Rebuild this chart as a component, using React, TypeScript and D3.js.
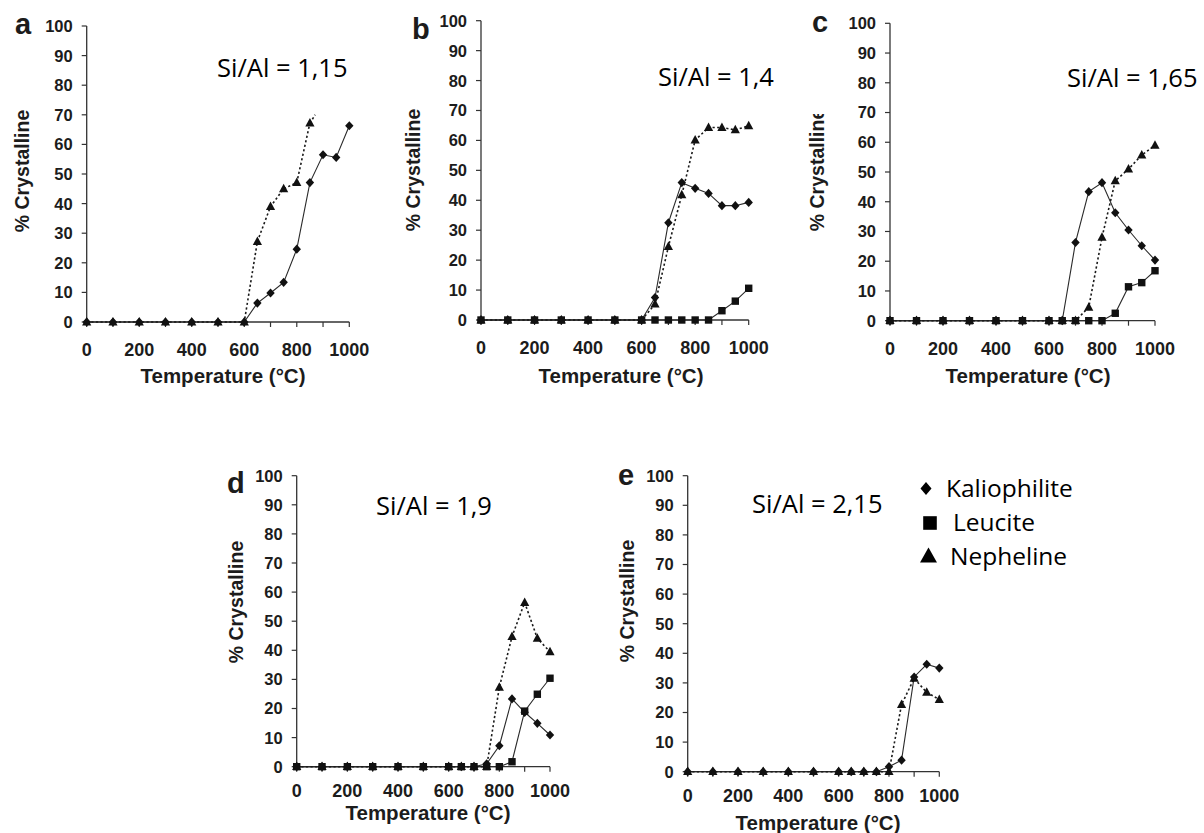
import React from 'react';
import * as d3 from 'd3';

// ---------- data ----------
const temps = [0, 100, 200, 300, 400, 500, 600, 650, 700, 750, 800, 850, 900, 950, 1000];
const xTickValues = [0, 100, 200, 300, 400, 500, 600, 700, 800, 900, 1000];
const xTickLabels = [0, 200, 400, 600, 800, 1000];
const yTickLabels = [0, 10, 20, 30, 40, 50, 60, 70, 80, 90, 100];

const panelLetters = ['a', 'b', 'c', 'd', 'e'];
const ratioLabels = ['Si/Al = 1,15', 'Si/Al = 1,4', 'Si/Al = 1,65', 'Si/Al = 1,9', 'Si/Al = 2,15'];
const legendLabels = ['Kaliophilite', 'Leucite', 'Nepheline'];

// panel a
const kalioA = [0, 0, 0, 0, 0, 0, 0, 6.4, 9.8, 13.4, 24.6, 47.1, 56.5, 55.6, 66.3];
const nephA = [0, 0, 0, 0, 0, 0, 0, 27.2, 39, 45, 47.1, 67.2];
const leucA: number[] = [];
const nephATailTemps = [850, 870];
const nephATailValues = [67.2, 70];
// panel b
const kalioB = [0, 0, 0, 0, 0, 0, 0, 7.5, 32.5, 45.9, 44, 42.3, 38.2, 38.2, 39.3];
const nephB = [0, 0, 0, 0, 0, 0, 0, 5.3, 24.5, 41.8, 60.1, 64.3, 64.3, 63.5, 64.9];
const leucB = [0, 0, 0, 0, 0, 0, 0, 0, 0, 0, 0, 0, 3.1, 6.3, 10.6];
// panel c
const kalioC = [0, 0, 0, 0, 0, 0, 0, 0, 26.3, 43.4, 46.4, 36.3, 30.5, 25.2, 20.4];
const nephC = [0, 0, 0, 0, 0, 0, 0, 0, 0, 4.5, 28, 47, 51, 55.7, 59];
const leucC = [0, 0, 0, 0, 0, 0, 0, 0, 0, 0, 0, 2.5, 11.4, 12.8, 16.8];
// panel d
const kalioD = [0, 0, 0, 0, 0, 0, 0, 0, 0, 1, 7.2, 23.3, 18.7, 14.9, 10.9];
const nephD = [0, 0, 0, 0, 0, 0, 0, 0, 0, 0, 27.3, 44.7, 56.4, 44.1, 39.5];
const leucD = [0, 0, 0, 0, 0, 0, 0, 0, 0, 0, 0, 1.7, 19.1, 24.9, 30.4];
// panel e
const kalioE = [0, 0, 0, 0, 0, 0, 0, 0, 0, 0, 1.7, 3.9, 32, 36.3, 35];
const nephE = [0, 0, 0, 0, 0, 0, 0, 0, 0, 0, 0, 22.7, 31.5, 26.8, 24.4];
const leucE: number[] = [];

// ---------- layout ----------
const layouts = [
  { x0: 86.7, x1: 349.3, yTop: 26, yBot: 322, lx: 15, ly: 34, ytx: 22, yty: 171, xtx: 223, xty: 383, xtickY: 356, rx: 217, ry: 77, clipTop: 0 },
  { x0: 481, x1: 748.7, yTop: 20.7, yBot: 320, lx: 412, ly: 39, ytx: 413, yty: 170, xtx: 621, xty: 383, xtickY: 354, rx: 658, ry: 86, clipTop: 0 },
  { x0: 890, x1: 1155, yTop: 23.3, yBot: 320.7, lx: 812, ly: 32, ytx: 817, yty: 170, xtx: 1028, xty: 383, xtickY: 355, rx: 1067, ry: 87, clipTop: 114 },
  { x0: 296.7, x1: 550, yTop: 475.7, yBot: 766.7, lx: 227, ly: 493, ytx: 236, yty: 602, xtx: 428, xty: 820, xtickY: 797, rx: 376, ry: 515, clipTop: 0 },
  { x0: 687.7, x1: 939.3, yTop: 475.7, yBot: 771.7, lx: 618, ly: 485, ytx: 627, yty: 601, xtx: 818, xty: 830, xtickY: 802, rx: 752, ry: 513, clipTop: 0 },
];

const seriesByPanel = [
  { kalio: kalioA, neph: nephA, leuc: leucA, tailT: nephATailTemps, tailV: nephATailValues },
  { kalio: kalioB, neph: nephB, leuc: leucB },
  { kalio: kalioC, neph: nephC, leuc: leucC },
  { kalio: kalioD, neph: nephD, leuc: leucD },
  { kalio: kalioE, neph: nephE, leuc: leucE },
];

const INK = '#1c1c1c';
const AXIS = '#333';
const SANS = '"Liberation Sans", Arial, Helvetica, sans-serif';
const LABEL_FONT = '"Open Sans", "Noto Sans", sans-serif';

const diamond = (w: number, h: number) => `M0,${-h}L${w},0L0,${h}L${-w},0Z`;
const square = (s: number) => `M${-s},${-s}H${s}V${s}H${-s}Z`;
const triangle = (w: number, h: number) => `M0,${-h * 0.6}L${w},${h * 0.4}L${-w},${h * 0.4}Z`;

function Panel({ idx }: { idx: number }) {
  const L = layouts[idx];
  const S: any = seriesByPanel[idx];
  const x = d3.scaleLinear().domain([0, 1000]).range([L.x0, L.x1]);
  const y = d3.scaleLinear().domain([0, 100]).range([L.yBot, L.yTop]);
  const line = d3.line<[number, number]>().x((d) => x(d[0])).y((d) => y(d[1]));
  const pts = (vals: number[]) => vals.map((v, i) => [temps[i], v] as [number, number]);
  const kal = pts(S.kalio);
  const nep = pts(S.neph);
  const leu = pts(S.leuc);
  const tail = S.tailT ? S.tailT.map((t: number, i: number) => [t, S.tailV[i]] as [number, number]) : null;
  const clipId = `yclip${idx}`;

  return (
    <g>
      {/* axes */}
      <line x1={L.x0} x2={L.x0} y1={y(100)} y2={y(0)} stroke={AXIS} strokeWidth={1.3} />
      <line x1={x(0)} x2={x(1000)} y1={y(0)} y2={y(0)} stroke={AXIS} strokeWidth={1.3} />
      {yTickLabels.map((v) => (
        <g key={'yt' + v}>
          <line x1={L.x0 - 5} x2={L.x0} y1={y(v)} y2={y(v)} stroke={AXIS} strokeWidth={1.2} />
          <text x={L.x0 - 14} y={y(v)} dy="0.36em" textAnchor="end" fontFamily={SANS} fontWeight="bold" fontSize={16.5} fill={INK}>
            {v}
          </text>
        </g>
      ))}
      {xTickValues.map((v) => (
        <line key={'xt' + v} x1={x(v)} x2={x(v)} y1={y(0)} y2={y(0) + 5} stroke={AXIS} strokeWidth={1.2} />
      ))}
      {xTickLabels.map((v) => (
        <text key={'xl' + v} x={x(v)} y={L.xtickY} textAnchor="middle" fontFamily={SANS} fontWeight="bold" fontSize={18} fill={INK}>
          {v}
        </text>
      ))}
      {/* titles */}
      <text x={L.xtx} y={L.xty} textAnchor="middle" fontFamily={SANS} fontWeight="bold" fontSize={20.5} fill={INK}>
        Temperature (°C)
      </text>
      {L.clipTop > 0 && (
        <defs>
          <clipPath id={clipId} clipPathUnits="userSpaceOnUse">
            <rect x={L.ytx - 20} y={L.clipTop} width={40} height={300} />
          </clipPath>
        </defs>
      )}
      <g clipPath={L.clipTop > 0 ? `url(#${clipId})` : undefined}>
        <text
          transform={`translate(${L.ytx},${L.yty}) rotate(-90)`}
          dy="0.36em"
          textAnchor="middle"
          fontFamily={SANS}
          fontWeight="bold"
          fontSize={19.5}
          fill={INK}
        >
          % Crystalline
        </text>
      </g>
      <text x={L.lx} y={L.ly} fontFamily={SANS} fontWeight="bold" fontSize={29} fill={INK}>
        {panelLetters[idx]}
      </text>
      <text x={L.rx} y={L.ry} fontFamily={LABEL_FONT} fontSize={25.5} fill="#000">
        {ratioLabels[idx]}
      </text>

      {/* lines */}
      <path d={line(kal) || ''} fill="none" stroke="#2a2a2a" strokeWidth={1.1} />
      {leu.length > 0 && <path d={line(leu) || ''} fill="none" stroke="#2a2a2a" strokeWidth={1.1} />}
      <path d={line(nep) || ''} fill="none" stroke="#1a1a1a" strokeWidth={1.6} strokeDasharray="2.2,2.4" />
      {tail && <path d={line(tail) || ''} fill="none" stroke="#1a1a1a" strokeWidth={1.6} strokeDasharray="2.2,2.4" />}

      {/* markers */}
      {nep.map((p, i) => (
        <path key={'n' + i} transform={`translate(${x(p[0])},${y(p[1])})`} d={triangle(4.6, 8.5)} fill="#111" />
      ))}
      {kal.map((p, i) => (
        <path key={'k' + i} transform={`translate(${x(p[0])},${y(p[1])})`} d={diamond(4.2, 4.6)} fill="#111" />
      ))}
      {leu.map((p, i) => (
        <path key={'l' + i} transform={`translate(${x(p[0])},${y(p[1])})`} d={square(3.7)} fill="#111" />
      ))}
    </g>
  );
}

function Legend() {
  return (
    <g fontFamily={LABEL_FONT} fontSize={24.5} fill="#000">
      <path transform="translate(926,488.5)" d={diamond(5.5, 6.5)} fill="#000" />
      <text x={946} y={496.5}>{legendLabels[0]}</text>
      <path transform="translate(930,523)" d={square(6.8)} fill="#000" />
      <text x={953} y={531}>{legendLabels[1]}</text>
      <path transform="translate(928.5,556.5)" d={triangle(8.5, 15)} fill="#000" />
      <text x={950} y={564.5}>{legendLabels[2]}</text>
    </g>
  );
}

export default function App() {
  return (
    <svg
      width={1204}
      height={833}
      viewBox="0 0 1204 833"
      style={{ position: 'absolute', left: 0, top: 0, background: '#fff' }}
    >
      <rect x={0} y={0} width={1204} height={833} fill="#fff" />
      {layouts.map((_, i) => (
        <Panel key={i} idx={i} />
      ))}
      <Legend />
    </svg>
  );
}
